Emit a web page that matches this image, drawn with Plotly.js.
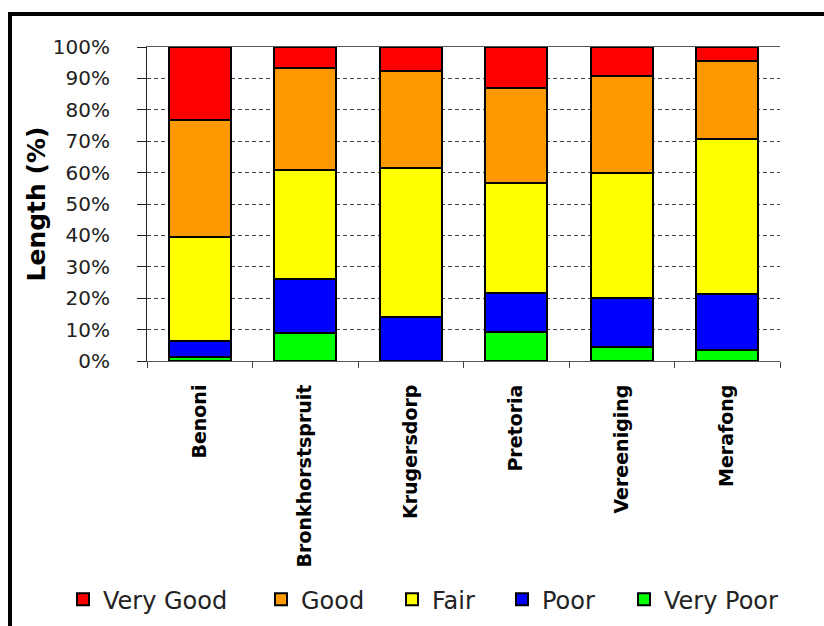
<!DOCTYPE html>
<html>
<head>
<meta charset="utf-8">
<script src="https://cdn.plot.ly/plotly-3.0.1.min.js"></script>
<style>
  html, body { margin: 0; padding: 0; background: #fff; overflow: hidden; }
  #wrap { position: relative; width: 824px; height: 626px; }
  #chart { width: 824px; height: 626px; }
  #frame { position: absolute; left: 8px; top: 12px; width: 900px; height: 700px;
           border: 4px solid #000; pointer-events: none; }
</style>
</head>
<body>
<div id="wrap">
  <div id="chart"></div>
  <div id="frame"></div>
</div>
<script>
// Categories (municipalities)
const categories = ["Benoni", "Bronkhorstspruit", "Krugersdorp", "Pretoria", "Vereeniging", "Merafong"];

// Series values (% of length)
const veryPoor = [1.4, 8.8, 0.0, 9.1, 4.5, 3.4];
const poor     = [5.0, 17.3, 14.1, 12.7, 15.6, 17.9];
const fair     = [33.2, 34.6, 47.5, 35.0, 39.9, 49.3];
const good     = [37.3, 32.6, 30.7, 30.3, 30.9, 24.9];
const veryGood = [23.1, 6.7, 7.7, 12.9, 9.1, 4.5];

const yTickVals = [0, 10, 20, 30, 40, 50, 60, 70, 80, 90, 100];
const yTickText = ["0%", "10%", "20%", "30%", "40%", "50%", "60%", "70%", "80%", "90%", "100%"];

const seriesNames = ["Very Poor", "Poor", "Fair", "Good", "Very Good"];
const seriesValues = [veryPoor, poor, fair, good, veryGood];
const seriesColors = ["#00ff00", "#0000ff", "#ffff00", "#ff9900", "#ff0000"];
const legendIds = ["legend5", "legend4", "legend3", "legend2", "legend"];
const legendX = [0.7536, 0.5608, 0.3870, 0.1801, -0.1327];

const traces = seriesNames.map((name, i) => ({
  type: "bar",
  name: name,
  x: categories,
  y: seriesValues[i],
  legend: legendIds[i],
  marker: { color: seriesColors[i], line: { color: "#000", width: 2 } },
  hoverinfo: "x+y+name"
}));

const legendFont = { family: "DejaVu Sans, sans-serif", size: 24, color: "#222" };

const layout = {
  width: 824,
  height: 626,
  margin: { l: 147, r: 44, t: 47, b: 265, autoexpand: false },
  paper_bgcolor: "#fff",
  plot_bgcolor: "#fff",
  barmode: "stack",
  bargap: 0.41,
  showlegend: true,
  xaxis: {
    type: "category",
    tickangle: -90,
    tickfont: { family: "DejaVu Sans, sans-serif", size: 19, color: "#000", weight: "bold" },
    ticks: "outside",
    tickson: "boundaries",
    ticklen: 6,
    tickcolor: "#444",
    showline: true,
    linecolor: "#555",
    linewidth: 1,
    mirror: true,
    showgrid: false,
    ticklabelstandoff: 15
  },
  yaxis: {
    range: [0, 100],
    tickvals: yTickVals,
    ticktext: yTickText,
    tickfont: { family: "DejaVu Sans, sans-serif", size: 20, color: "#222" },
    ticks: "outside",
    ticklen: 9,
    tickcolor: "#222",
    showline: true,
    linecolor: "#222",
    linewidth: 1,
    showgrid: true,
    gridcolor: "#444",
    griddash: "4px,3px",
    gridwidth: 1,
    zeroline: false,
    ticklabelstandoff: 23,
    title: {
      text: "Length (%)",
      font: { family: "DejaVu Sans, sans-serif", size: 25, color: "#000", weight: "bold" },
      standoff: 0
    }
  }
};

legendIds.forEach((id, i) => {
  layout[id] = {
    orientation: "h",
    x: legendX[i], xanchor: "left",
    y: -0.76, yanchor: "middle",
    font: legendFont,
    bgcolor: "rgba(0,0,0,0)"
  };
});

Plotly.newPlot("chart", traces, layout, { displayModeBar: false, staticPlot: true });
</script>
</body>
</html>
